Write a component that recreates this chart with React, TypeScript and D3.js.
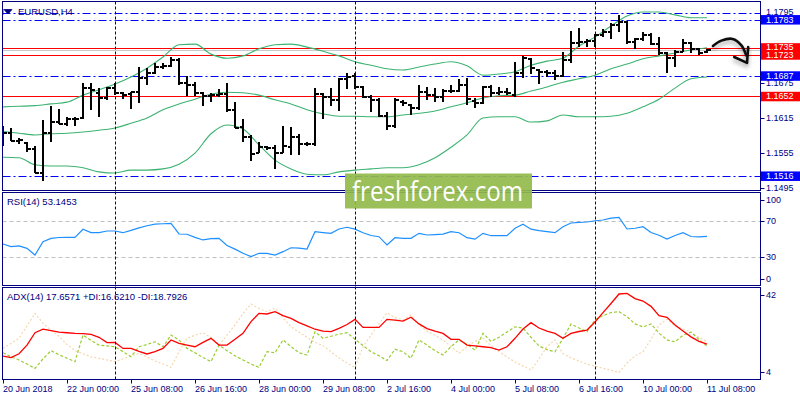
import React from 'react';
import * as d3 from 'd3';

const symbolTitle = 'EURUSD,H4';
const rsiTitle = 'RSI(14) 53.1453';
const adxTitle = 'ADX(14) 17.6571 +DI:16.6210 -DI:18.7926';
const watermark = 'freshforex.com';

// time axis, one label every 8 bars
const timeLabels = ['20 Jun 2018', '22 Jun 00:00', '25 Jun 08:00', '26 Jun 16:00', '28 Jun 00:00', '29 Jun 08:00',
  '2 Jul 16:00', '4 Jul 00:00', '5 Jul 08:00', '6 Jul 16:00', '10 Jul 00:00', '11 Jul 08:00'];
const labelEvery = 8;

// weekly separators (bar index)
const separators = [14, 44, 74];

// H4 bars
const opens = [
  1.1589, 1.1590, 1.1576, 1.1572, 1.1562, 1.1521, 1.1589, 1.1608, 1.1605, 1.1613,
  1.1615, 1.1666, 1.1658, 1.1649, 1.1666, 1.1658, 1.1656, 1.1659, 1.1683, 1.1692,
  1.1702, 1.1704, 1.1714, 1.1675, 1.1671, 1.1658, 1.1653, 1.1654, 1.1656, 1.1629,
  1.1600, 1.1583, 1.1555, 1.1565, 1.1564, 1.1555, 1.1566, 1.1583, 1.1571, 1.1571,
  1.1656, 1.1651, 1.1646, 1.1682, 1.1687, 1.1668, 1.1651, 1.1646, 1.1618, 1.1601,
  1.1642, 1.1637, 1.1632, 1.1659, 1.1654, 1.1651, 1.1661, 1.1661, 1.1671, 1.1644,
  1.1641, 1.1668, 1.1658, 1.1660, 1.1654, 1.1692, 1.1716, 1.1697, 1.1694, 1.1692,
  1.1687, 1.1714, 1.1743, 1.1745, 1.1746, 1.1757, 1.1762, 1.1774, 1.1779, 1.1745,
  1.1750, 1.1757, 1.1741, 1.1726, 1.1717, 1.1728, 1.1743, 1.1733, 1.1728,
];
const highs = [
  1.1601, 1.1598, 1.1581, 1.1574, 1.1567, 1.1612, 1.1635, 1.1630, 1.1617, 1.1617,
  1.1675, 1.1675, 1.1666, 1.1668, 1.1675, 1.1659, 1.1659, 1.1702, 1.1700, 1.1709,
  1.1709, 1.1719, 1.1717, 1.1687, 1.1676, 1.1659, 1.1658, 1.1665, 1.1675, 1.1642,
  1.1613, 1.1586, 1.1574, 1.1567, 1.1569, 1.1601, 1.1600, 1.1588, 1.1574, 1.1666,
  1.1658, 1.1666, 1.1683, 1.1692, 1.1692, 1.1669, 1.1654, 1.1649, 1.1625, 1.1649,
  1.1646, 1.1639, 1.1671, 1.1668, 1.1666, 1.1665, 1.1671, 1.1682, 1.1683, 1.1649,
  1.1670, 1.1671, 1.1668, 1.1666, 1.1711, 1.1721, 1.1717, 1.1699, 1.1697, 1.1697,
  1.1728, 1.1764, 1.1769, 1.1750, 1.1758, 1.1767, 1.1777, 1.1791, 1.1781, 1.1752,
  1.1762, 1.1760, 1.1753, 1.1728, 1.1731, 1.1750, 1.1745, 1.1735, 1.1733,
];
const lows = [
  1.1567, 1.1576, 1.1571, 1.1557, 1.1521, 1.1508, 1.1574, 1.1605, 1.1601, 1.1601,
  1.1614, 1.1629, 1.1617, 1.1646, 1.1654, 1.1647, 1.1630, 1.1641, 1.1671, 1.1690,
  1.1699, 1.1702, 1.1671, 1.1653, 1.1653, 1.1635, 1.1642, 1.1651, 1.1625, 1.1598,
  1.1574, 1.1542, 1.1555, 1.1560, 1.1528, 1.1555, 1.1552, 1.1552, 1.1567, 1.1567,
  1.1613, 1.1635, 1.1627, 1.1665, 1.1665, 1.1649, 1.1625, 1.1617, 1.1594, 1.1598,
  1.1635, 1.1620, 1.1629, 1.1646, 1.1642, 1.1642, 1.1658, 1.1660, 1.1637, 1.1632,
  1.1639, 1.1651, 1.1654, 1.1654, 1.1651, 1.1683, 1.1690, 1.1673, 1.1685, 1.1680,
  1.1685, 1.1709, 1.1736, 1.1736, 1.1736, 1.1753, 1.1750, 1.1762, 1.1741, 1.1733,
  1.1746, 1.1740, 1.1723, 1.1692, 1.1702, 1.1728, 1.1726, 1.1723, 1.1726,
];
const closes = [
  1.1590, 1.1576, 1.1577, 1.1562, 1.1521, 1.1590, 1.1608, 1.1605, 1.1614, 1.1614,
  1.1666, 1.1663, 1.1649, 1.1666, 1.1658, 1.1654, 1.1659, 1.1683, 1.1692, 1.1702,
  1.1704, 1.1714, 1.1675, 1.1671, 1.1658, 1.1653, 1.1654, 1.1656, 1.1629, 1.1598,
  1.1583, 1.1553, 1.1565, 1.1564, 1.1555, 1.1567, 1.1583, 1.1571, 1.1571, 1.1656,
  1.1651, 1.1646, 1.1682, 1.1685, 1.1668, 1.1651, 1.1646, 1.1618, 1.1601, 1.1646,
  1.1641, 1.1632, 1.1659, 1.1654, 1.1651, 1.1661, 1.1661, 1.1671, 1.1647, 1.1641,
  1.1668, 1.1658, 1.1660, 1.1658, 1.1692, 1.1717, 1.1700, 1.1694, 1.1692, 1.1687,
  1.1714, 1.1743, 1.1745, 1.1746, 1.1757, 1.1762, 1.1774, 1.1779, 1.1745, 1.1750,
  1.1757, 1.1741, 1.1726, 1.1717, 1.1728, 1.1743, 1.1733, 1.1726, 1.1731,
];

// Bollinger bands, read every 2nd bar
const bandStep = 2;
const bbUpper = [
  1.1634, 1.1635, 1.1636, 1.1639, 1.1642, 1.1654, 1.1663, 1.1673, 1.1685, 1.1700,
  1.1719, 1.1740, 1.1741, 1.1724, 1.1717, 1.1721, 1.1733, 1.1740, 1.1741, 1.1736,
  1.1729, 1.1721, 1.1711, 1.1705, 1.1699, 1.1697, 1.1702, 1.1707, 1.1711, 1.1704,
  1.1688, 1.1690, 1.1694, 1.1705, 1.1712, 1.1717, 1.1738, 1.1753, 1.1772, 1.1789,
  1.1796, 1.1796, 1.1791, 1.1786, 1.1786,
];
const bbMiddle = [
  1.1592, 1.1589, 1.1586, 1.1588, 1.1589, 1.1591, 1.1594, 1.1598, 1.1606, 1.1615,
  1.1629, 1.1639, 1.1647, 1.1656, 1.1659, 1.1658, 1.1654, 1.1646, 1.1639, 1.1629,
  1.1622, 1.1618, 1.1618, 1.1617, 1.1617, 1.1620, 1.1623, 1.1627, 1.1634, 1.1641,
  1.1649, 1.1653, 1.1654, 1.1661, 1.1668, 1.1676, 1.1682, 1.1688, 1.1699, 1.1707,
  1.1716, 1.1721, 1.1726, 1.1731, 1.1735,
];
const bbLower = [
  1.1548, 1.1547, 1.1535, 1.1533, 1.1533, 1.1530, 1.1523, 1.1521, 1.1526, 1.1526,
  1.1528, 1.1536, 1.1555, 1.1588, 1.1603, 1.1596, 1.1569, 1.1543, 1.1528, 1.1519,
  1.1518, 1.1523, 1.1526, 1.1528, 1.1530, 1.1530, 1.1535, 1.1547, 1.1565, 1.1586,
  1.1615, 1.1617, 1.1617, 1.1608, 1.1610, 1.1620, 1.1617, 1.1617, 1.1618, 1.1623,
  1.1634, 1.1647, 1.1666, 1.1682, 1.1685,
];

const rsi = [
  44.7, 41.7, 42.5, 39.9, 32.5, 47.2, 50.9, 51.8, 52.0, 52.0,
  60.9, 57.3, 57.1, 59.0, 59.0, 57.1, 59.6, 62.5, 64.8, 66.5,
  67.0, 67.5, 55.7, 55.4, 52.0, 49.1, 50.5, 50.9, 43.0, 39.0,
  34.5, 30.7, 34.4, 34.4, 32.5, 36.2, 40.5, 40.0, 39.1, 58.2,
  57.3, 56.4, 61.2, 63.1, 61.0, 57.0, 54.0, 52.7, 43.6, 51.6,
  50.9, 50.9, 56.4, 54.6, 55.0, 55.5, 58.2, 57.1, 51.6, 50.0,
  56.4, 53.8, 53.8, 53.8, 62.0, 66.4, 61.0, 59.5, 58.3, 57.1,
  63.7, 67.8, 68.4, 68.9, 70.3, 71.1, 73.2, 74.1, 61.2, 62.0,
  63.7, 57.3, 54.3, 50.2, 54.0, 57.1, 52.9, 52.6, 53.1,
];
const adx = [
  11.9, 11.1, 13.0, 17.2, 23.2, 24.9, 24.2, 23.5, 23.2, 22.9,
  22.8, 22.4, 21.0, 18.4, 18.5, 15.6, 15.6, 14.2, 12.9, 14.0,
  15.6, 19.7, 18.0, 17.2, 16.4, 18.5, 20.5, 17.2, 17.2, 20.0,
  22.9, 28.6, 32.6, 32.3, 33.4, 31.5, 30.2, 28.1, 26.5, 24.9,
  24.0, 23.7, 25.3, 27.2, 29.7, 25.8, 25.8, 25.8, 29.7, 29.3,
  28.8, 30.7, 27.5, 25.2, 24.0, 22.9, 20.0, 20.0, 17.2, 16.8,
  16.4, 16.0, 14.8, 16.4, 20.5, 25.0, 28.1, 25.5, 24.0, 22.9,
  20.5, 22.9, 23.8, 24.5, 28.4, 33.0, 37.4, 42.0, 42.3, 39.8,
  38.6, 36.0, 31.5, 30.7, 27.0, 24.0, 21.2, 19.0, 17.7,
];
const plusDi = [
  13.5, 11.5, 10.0, 8.0, 5.9, 10.5, 14.5, 12.5, 10.8, 9.2,
  22.1, 19.5, 17.2, 16.8, 16.4, 14.0, 11.6, 16.4, 17.5, 18.8,
  16.4, 22.1, 19.7, 15.6, 13.5, 11.2, 9.2, 17.2, 14.5, 12.0,
  10.0, 8.0, 6.4, 14.0, 13.5, 19.7, 16.5, 13.5, 12.4, 23.7,
  20.5, 21.5, 22.5, 23.2, 20.0, 17.0, 14.0, 12.0, 9.7, 15.2,
  14.0, 10.8, 19.7, 17.2, 14.5, 12.4, 16.5, 19.7, 17.5, 14.8,
  22.9, 19.0, 21.0, 23.5, 26.1, 25.5, 21.0, 16.8, 15.0, 14.0,
  20.5, 27.4, 25.5, 23.7, 29.5, 31.5, 33.0, 33.4, 31.0, 27.5,
  26.0, 27.5, 23.0, 19.7, 18.8, 22.0, 23.5, 20.0, 16.6,
];
const minusDi = [
  15.6, 18.0, 20.5, 26.5, 32.6, 27.8, 24.5, 21.5, 17.5, 14.5,
  13.0, 11.5, 10.8, 10.0, 9.2, 10.5, 12.0, 13.2, 11.5, 9.5,
  8.0, 6.4, 14.0, 20.5, 22.0, 23.2, 21.0, 17.2, 22.0, 27.0,
  32.5, 37.1, 35.0, 33.4, 35.1, 30.5, 26.1, 23.5, 21.0, 18.5,
  17.0, 14.0, 11.0, 8.5, 6.4, 16.4, 22.0, 27.5, 32.9, 30.5,
  29.4, 31.8, 27.0, 24.0, 22.0, 19.7, 16.5, 13.2, 16.5, 19.0,
  20.5, 17.0, 14.0, 11.5, 9.0, 7.0, 5.2, 10.5, 16.5, 19.7,
  13.0, 11.0, 9.5, 8.0, 7.0, 6.0, 5.0, 3.9, 8.5, 12.0,
  14.0, 20.0, 27.0, 29.7, 26.5, 25.0, 23.5, 21.0, 18.8,
];

// analyst levels
const redLevels = [1.1735, 1.1723, 1.1652];
const blueLevels = [1.1795, 1.1783, 1.1687, 1.1516];
const boxedBlue = [1.1783, 1.1687, 1.1516];
const plainBlue = [1.1795];
const priceTicks = [1.1675, 1.1615, 1.1555, 1.1495];
const trendPrices = [1.1783, 1.1687];
const trendStarts = [71.1, 9.25];
const trendEnd = 94.25;

const rsiTicks = [100, 70, 30, 0];
const rsiLevels = [70, 30];
const adxTicks = [42, 4];

// hand-drawn arrow (bar index, price)
const arrowCurve: [number, number][] = [[88.75, 1.1738], [89.8, 1.1747], [91.2, 1.1750], [92.3, 1.1739], [92.9, 1.1722]];
const arrowHead: [number, number][] = [[91.4, 1.1719], [93.0, 1.1709], [93.15, 1.1736]];

const FONT = '"Liberation Sans", Arial, sans-serif';
const NAVY = '#000080';
const fmt = d3.format('.4f');

const App: React.FC = () => {
  const left = 2.5;
  const right = 760.5;
  const main = { top: 1.5, bottom: 190.5 };
  const rsiPane = { top: 192.5, bottom: 285.5 };
  const adxPane = { top: 287.5, bottom: 379.5 };

  const x = d3.scaleLinear().domain([0, 88]).range([3, 707]);
  const y = d3.scaleLinear().domain([1.1492, 1.1813]).range([190, 2]);
  const yR = d3.scaleLinear().domain([0, 100]).range([284.5, 193.8]);
  const yA = d3.scaleLinear().domain([4, 42]).range([372.3, 294]);

  const bandLine = d3.line<number>().x((_, k) => x(k * bandStep)).y(d => y(d)).curve(d3.curveMonotoneX);
  const rsiLine = d3.line<number>().x((_, i) => x(i)).y(d => yR(d));
  const adxLine = d3.line<number>().x((_, i) => x(i)).y(d => yA(d));
  const arrowLine = d3.line<[number, number]>().x(d => x(d[0])).y(d => y(d[1]));
  const arrowSmooth = d3.line<[number, number]>().x(d => x(d[0])).y(d => y(d[1])).curve(d3.curveCatmullRom);

  const clampLabel = (v: number, pane: { top: number; bottom: number }) =>
    Math.max(pane.top + 7, Math.min(pane.bottom - 7, v));
  const crisp = (v: number) => Math.round(v) + 0.5;

  const lastClose = closes[closes.length - 1];

  return (
    <svg width={800} height={400} style={{ position: 'absolute', left: 0, top: 0, background: '#fff' }}>
      <defs>
        <clipPath id="mainClip">
          <rect x={left} y={main.top} width={right - left} height={main.bottom - main.top} />
        </clipPath>
        <filter id="shadow" x="-10%" y="-200%" width="120%" height="500%">
          <feDropShadow dx="0" dy="3" stdDeviation="2.2" floodColor="#000" floodOpacity="0.35" />
        </filter>
      </defs>

      {/* main pane */}
      <g clipPath="url(#mainClip)">
        {blueLevels.map(p => (
          <line key={'b' + p} x1={left} x2={right} y1={crisp(y(p))} y2={crisp(y(p))} stroke="#0000FF" strokeWidth={1}
            strokeDasharray="8,3,2,3" />
        ))}
        {redLevels.map(p => (
          <line key={'r' + p} x1={left} x2={right} y1={crisp(y(p))} y2={crisp(y(p))} stroke="#FF0000" strokeWidth={1.2} />
        ))}
        <line x1={left} x2={right} y1={crisp(y(lastClose))} y2={crisp(y(lastClose))} stroke="#C8C8C8" strokeWidth={1} />

        {[bbUpper, bbMiddle, bbLower].map((band, k) => (
          <path key={'bb' + k} d={bandLine(band) || ''} fill="none" stroke="#3CB371" strokeWidth={1.1} />
        ))}

        {trendPrices.map((p, k) => (
          <line key={'t' + p} x1={x(trendStarts[k])} x2={x(trendEnd)} y1={y(p)} y2={y(p)}
            stroke="#0000FF" strokeWidth={3.2} filter="url(#shadow)" />
        ))}

        <g stroke="#000" strokeWidth={2} shapeRendering="crispEdges">
          {opens.map((o, i) => {
            const cx = x(i);
            return (
              <g key={'bar' + i}>
                <line x1={cx} x2={cx} y1={y(highs[i])} y2={y(lows[i])} />
                <line x1={cx - 3.5} x2={cx} y1={Math.round(y(o))} y2={Math.round(y(o))} />
                <line x1={cx} x2={cx + 4} y1={Math.round(y(closes[i]))} y2={Math.round(y(closes[i]))} />
              </g>
            );
          })}
        </g>

        <g filter="url(#shadow)" fill="none" stroke="#111" strokeWidth={2.6} strokeLinecap="round" strokeLinejoin="round">
          <path d={arrowSmooth(arrowCurve) || ''} />
          <path d={arrowLine(arrowHead) || ''} />
        </g>
      </g>

      {/* RSI pane */}
      {rsiLevels.map(v => (
        <line key={'rl' + v} x1={left} x2={right} y1={crisp(yR(v))} y2={crisp(yR(v))} stroke="#C0C0C0" strokeDasharray="4,3" />
      ))}
      <path d={rsiLine(rsi) || ''} fill="none" stroke="#1E90FF" strokeWidth={1.2} />

      {/* ADX pane */}
      <path d={adxLine(minusDi) || ''} fill="none" stroke="#F5D7AE" strokeWidth={1.2} strokeDasharray="2,2" />
      <path d={adxLine(plusDi) || ''} fill="none" stroke="#9ACD32" strokeWidth={1.2} strokeDasharray="3,2" />
      <path d={adxLine(adx) || ''} fill="none" stroke="#FF0000" strokeWidth={1.3} />

      {/* separators */}
      {separators.map(i => (
        <line key={'sep' + i} x1={crisp(x(i))} x2={crisp(x(i))} y1={main.top} y2={adxPane.bottom} stroke={NAVY}
          strokeWidth={1} strokeDasharray="3,2" />
      ))}

      {/* frames */}
      {[main, rsiPane, adxPane].map((p, k) => (
        <rect key={'fr' + k} x={left} y={p.top} width={right - left} height={p.bottom - p.top}
          fill="none" stroke={NAVY} strokeWidth={1} />
      ))}

      {/* titles */}
      <path d="M4,9.5 L12,9.5 L8,14 Z M3,9 L3,15" fill={NAVY} stroke={NAVY} strokeWidth={0.8} />
      <text x={18} y={14.5} fontFamily={FONT} fontSize={9.5} fill={NAVY}>{symbolTitle}</text>
      <text x={7} y={205} fontFamily={FONT} fontSize={9.5} fill={NAVY}>{rsiTitle}</text>
      <text x={7} y={300} fontFamily={FONT} fontSize={9.5} fill={NAVY}>{adxTitle}</text>

      {/* watermark */}
      <rect x={345} y={173.5} width={187} height={35} fill="#93BA4B" opacity={0.92} />
      <text x={352} y={200.5} fontFamily='"Open Sans", "Noto Sans", sans-serif' fontSize={27} fill="#fff"
        textLength={171} lengthAdjust="spacingAndGlyphs">{watermark}</text>

      {/* price axis */}
      <g fontFamily={FONT} fontSize={9}>
        {priceTicks.map(p => (
          <g key={'pt' + p}>
            <line x1={right} x2={right + 4} y1={crisp(y(p))} y2={crisp(y(p))} stroke={NAVY} />
            <text x={766} y={y(p)} dy="0.35em" fill={NAVY}>{fmt(p)}</text>
          </g>
        ))}
        {plainBlue.map(p => (
          <g key={'pb' + p}>
            <rect x={right + 1} y={y(p) - 5} width={40} height={10} fill="#fff" />
            <text x={766} y={y(p) - 1} dy="0.35em" fill={NAVY}>{fmt(p)}</text>
          </g>
        ))}
        {boxedBlue.map(p => (
          <g key={'bx' + p}>
            <rect x={right + 0.5} y={y(p) - 4.5} width={40} height={9.5} fill="#0000FF" />
            <text x={766} y={y(p)} dy="0.35em" fill="#fff">{fmt(p)}</text>
          </g>
        ))}
        {redLevels.map((p, k) => (
          <g key={'rx' + p}>
            <rect x={right + 0.5} y={y(p) - 4.5} width={40} height={9.5} fill="#FF0000" />
            <text x={766} y={y(p) - (k === 0 ? 1 : 0)} dy="0.35em" fill="#fff">{fmt(p)}</text>
          </g>
        ))}

        {rsiTicks.map(v => (
          <g key={'rt' + v}>
            <line x1={right} x2={right + 4} y1={crisp(clampLabel(yR(v), rsiPane))} y2={crisp(clampLabel(yR(v), rsiPane))} stroke={NAVY} />
            <text x={766} y={clampLabel(yR(v), rsiPane)} dy="0.35em" fill={NAVY}>{v}</text>
          </g>
        ))}
        {adxTicks.map(v => (
          <g key={'at' + v}>
            <line x1={right} x2={right + 4} y1={crisp(clampLabel(yA(v), adxPane))} y2={crisp(clampLabel(yA(v), adxPane))} stroke={NAVY} />
            <text x={766} y={clampLabel(yA(v), adxPane)} dy="0.35em" fill={NAVY}>{v}</text>
          </g>
        ))}
      </g>

      {/* time axis */}
      <g fontFamily={FONT} fontSize={9}>
        {timeLabels.map((t, k) => {
          const tx = x(k * labelEvery);
          return (
            <g key={'tl' + k}>
              <line x1={crisp(tx)} x2={crisp(tx)} y1={adxPane.bottom} y2={adxPane.bottom + 4} stroke={NAVY} />
              <text x={tx} y={392} fill={NAVY}>{t}</text>
            </g>
          );
        })}
      </g>
    </svg>
  );
};

export default App;
